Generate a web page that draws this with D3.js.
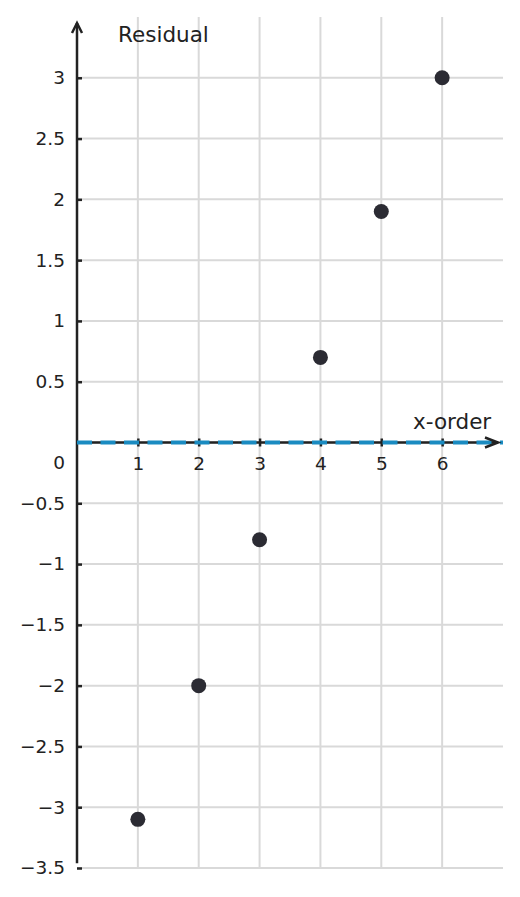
<!DOCTYPE html>
<html>
<head>
    <meta charset="utf-8">
    <script src="https://d3js.org/d3.v7.min.js"></script>
    <style>
        body { margin: 0; background: #fff; }
        text { font-family: "DejaVu Sans", sans-serif; fill: #222; }
    </style>
</head>
<body>
<svg id="chart"></svg>
<script>
    // data
    var xOrder = [1, 2, 3, 4, 5, 6];
    var residuals = [-3.1, -2, -0.8, 0.7, 1.9, 3];
    var xTicks = [1, 2, 3, 4, 5, 6];
    var yTicks = [-3.5, -3, -2.5, -2, -1.5, -1, -0.5, 0.5, 1, 1.5, 2, 2.5, 3];
    var yGrid = [-3.5, -3, -2.5, -2, -1.5, -1, -0.5, 0, 0.5, 1, 1.5, 2, 2.5, 3];

    (function () {
        const width = 520,
            height = 897;

        var x = d3.scaleLinear().domain([0, 7]).range([77, 503]);
        var y = d3.scaleLinear().domain([-3.5, 3.5]).range([868, 17]);

        var svg = d3.select("#chart")
            .attr("width", width)
            .attr("height", height);

        var fmt = function (d) { return String(d).replace("-", "\u2212"); };

        // grid
        svg.append("g").selectAll("line")
            .data(xTicks)
            .enter().append("line")
            .attr("x1", d => x(d)).attr("x2", d => x(d))
            .attr("y1", y(3.5)).attr("y2", y(-3.5))
            .attr("stroke", "#d9d9d9").attr("stroke-width", 2);

        svg.append("g").selectAll("line")
            .data(yGrid)
            .enter().append("line")
            .attr("x1", x(0)).attr("x2", x(7))
            .attr("y1", d => y(d)).attr("y2", d => y(d))
            .attr("stroke", "#d9d9d9").attr("stroke-width", 2);

        // y axis ticks + labels
        var yAxis = d3.axisLeft(y)
            .tickValues(yTicks)
            .tickSize(-5)
            .tickPadding(12)
            .tickFormat(fmt);
        var gy = svg.append("g")
            .attr("transform", "translate(" + x(0) + ",0)")
            .call(yAxis);
        gy.select(".domain").remove();
        gy.selectAll(".tick line").attr("stroke", "#222").attr("stroke-width", 2.5);
        gy.selectAll(".tick text")
            .attr("font-size", 18.5)
            .attr("font-family", "DejaVu Sans")
            .attr("fill", "#222");

        // y axis line with arrow
        svg.append("line")
            .attr("x1", x(0)).attr("x2", x(0))
            .attr("y1", y(-3.46)).attr("y2", 23)
            .attr("stroke", "#222").attr("stroke-width", 2.5);
        svg.append("path")
            .attr("d", "M" + (x(0) - 5) + ",33 L" + x(0) + ",23 L" + (x(0) + 5) + ",33")
            .attr("fill", "none").attr("stroke", "#222").attr("stroke-width", 2.5);

        // x axis line with arrow
        svg.append("line")
            .attr("x1", x(0)).attr("x2", 498)
            .attr("y1", y(0)).attr("y2", y(0))
            .attr("stroke", "#222").attr("stroke-width", 2.5);

        var xAxis = d3.axisBottom(x)
            .tickValues(xTicks)
            .tickSize(4)
            .tickPadding(10)
            .tickFormat(fmt);
        var gx = svg.append("g")
            .attr("transform", "translate(0," + y(0) + ")")
            .call(xAxis);
        gx.select(".domain").remove();
        gx.selectAll(".tick line")
            .attr("y1", -4)
            .attr("stroke", "#222").attr("stroke-width", 2.5);
        gx.selectAll(".tick text")
            .attr("font-size", 18.5)
            .attr("font-family", "DejaVu Sans")
            .attr("fill", "#222");

        // zero label sits under the x axis
        svg.append("text")
            .attr("x", 65).attr("y", y(0) + 26)
            .attr("text-anchor", "end")
            .attr("font-size", 18.5)
            .text("0");

        // zero reference line
        svg.append("line")
            .attr("x1", x(0)).attr("x2", x(7))
            .attr("y1", y(0)).attr("y2", y(0))
            .attr("stroke", "#1a8bc1").attr("stroke-width", 4)
            .attr("stroke-dasharray", "15,8.5");

        svg.append("path")
            .attr("d", "M485," + (y(0) - 5) + " L498," + y(0) + " L485," + (y(0) + 5))
            .attr("fill", "none").attr("stroke", "#222").attr("stroke-width", 2.5);

        // axis titles
        svg.append("text")
            .attr("x", 118).attr("y", 42)
            .attr("font-size", 21.5)
            .text("Residual");
        svg.append("text")
            .attr("x", 413).attr("y", 429)
            .attr("font-size", 21.5)
            .text("x-order");

        // points
        svg.append("g").selectAll("circle")
            .data(xOrder)
            .enter().append("circle")
            .attr("cx", d => x(d))
            .attr("cy", (d, i) => y(residuals[i]))
            .attr("r", 7.5)
            .attr("fill", "#2b2b33");
    })();
</script>
</body>
</html>
